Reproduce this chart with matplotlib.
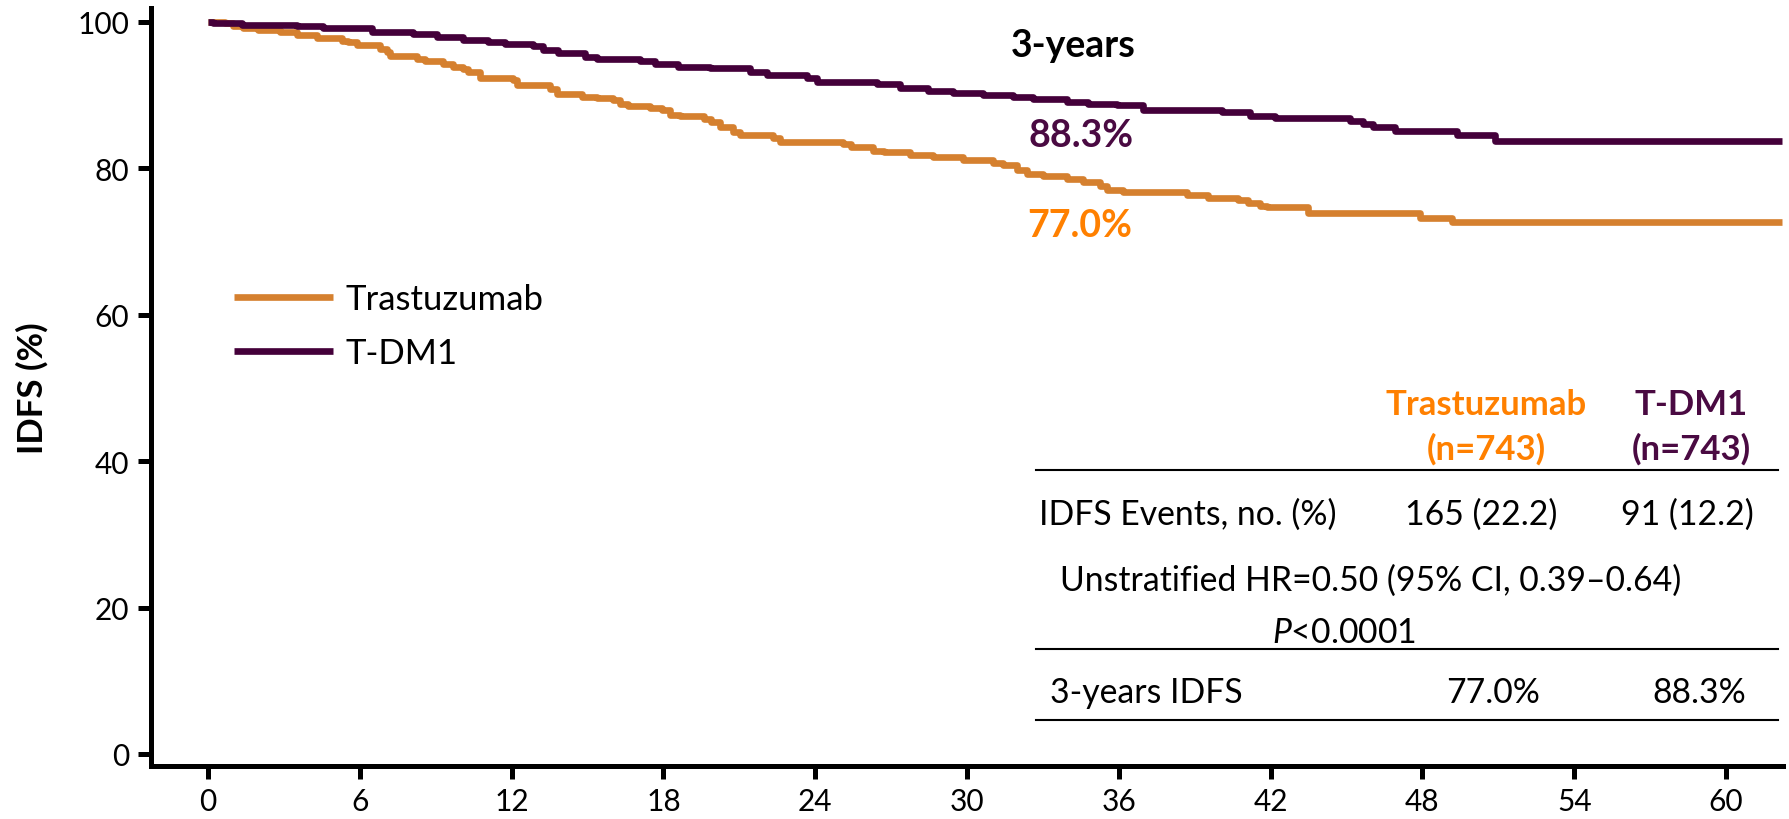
import matplotlib
matplotlib.use("Agg")
import matplotlib.pyplot as plt
from matplotlib.lines import Line2D

plt.rcParams['font.family'] = ['Lato', 'DejaVu Sans']
plt.rcParams['mathtext.fontset'] = 'custom'
plt.rcParams['mathtext.rm'] = 'Lato'
plt.rcParams['mathtext.it'] = 'Lato:italic'

# ---------------- data ----------------
groups = ["Trastuzumab", "T-DM1"]

tras_months = [0, 0.67, 1.0, 1.40, 1.99, 2.85, 3.5, 4.3, 5.28, 5.55, 5.88, 6.4, 6.8, 7.06, 7.19,
               8.25, 8.58, 9.3, 9.7, 10.09, 10.29, 10.75, 12.07, 12.2, 13.5, 13.78, 14.77, 15.36,
               16.0, 16.28, 16.6, 17.47, 17.93, 18.26, 18.66, 19.6, 19.9, 20.24, 20.76, 21.03,
               22.34, 22.6, 25.1, 25.4, 26.3, 26.7, 27.75, 28.67, 29.85, 31.04, 31.43, 31.96,
               32.36, 33.0, 33.94, 34.6, 35.26, 35.52, 36.18, 38.68, 39.54, 40.72, 41.12, 41.58,
               41.84, 43.49, 47.9, 49.16, 62.2]
tras_idfs = [100, 99.8, 99.5, 99.1, 98.9, 98.6, 98.2, 97.8, 97.4, 97.2, 96.9, 96.8, 96.3, 95.9, 95.4,
             94.9, 94.6, 94.3, 93.9, 93.6, 93.1, 92.4, 92.0, 91.4, 90.8, 90.2, 89.8, 89.6,
             89.3, 88.8, 88.5, 88.2, 87.9, 87.3, 87.1, 86.7, 86.3, 85.6, 85.0, 84.6,
             84.2, 83.65, 83.3, 82.9, 82.4, 82.2, 81.8, 81.5, 81.2, 80.7, 80.4, 79.8,
             79.2, 78.9, 78.55, 78.2, 77.6, 77.1, 76.8, 76.4, 76.0, 75.7, 75.3, 74.9,
             74.7, 73.9, 73.2, 72.6, 72.6]

tdm1_months = [0, 0.21, 1.33, 3.5, 4.56, 6.47, 8.12, 9.04, 10.09, 11.08, 11.74, 12.86, 13.25, 13.85,
               14.9, 15.36, 17.08, 17.67, 18.59, 19.84, 21.42, 22.08, 23.66, 24.06, 26.43, 27.35,
               28.47, 29.46, 30.64, 31.83, 32.62, 33.94, 34.79, 35.92, 36.97, 40.07, 41.19, 42.17,
               45.14, 45.66, 46.06, 46.92, 49.35, 50.87, 62.2]
tdm1_idfs = [100, 99.8, 99.6, 99.4, 99.1, 98.6, 98.3, 97.95, 97.5, 97.2, 97.0, 96.7, 96.2, 95.7,
             95.2, 94.9, 94.6, 94.3, 93.8, 93.65, 93.1, 92.8, 92.3, 91.85, 91.5, 90.95,
             90.6, 90.3, 90.0, 89.7, 89.5, 89.1, 88.8, 88.6, 88.0, 87.65, 87.2, 86.85,
             86.4, 86.1, 85.6, 85.1, 84.6, 83.7, 83.7]

x_ticks = [0, 6, 12, 18, 24, 30, 36, 42, 48, 54, 60]
y_ticks = [0, 20, 40, 60, 80, 100]

three_year = ["77.0%", "88.3%"]
n_patients = ["(n=743)", "(n=743)"]
events = ["165 (22.2)", "91 (12.2)"]
hr_text = "Unstratified HR=0.50 (95% CI, 0.39\u20130.64)"
p_text = r"$\mathit{P}$<0.0001"

# ---------------- style ----------------
W, H = 1789, 820
C_TRAS = "#D5802F"
C_TDM1 = "#44003A"
T_TRAS = "#FF8000"
T_TDM1 = "#4A0A42"

fig = plt.figure(figsize=(W / 100, H / 100), dpi=100)
ax = fig.add_axes([150.7 / W, (H - 766.7) / H, (1783 - 150.7) / W, (766.7 - 9) / H])

ax.plot(tras_months, tras_idfs, drawstyle="steps-post", color=C_TRAS, lw=4.8,
        solid_capstyle="butt", label=groups[0])
ax.plot(tdm1_months, tdm1_idfs, drawstyle="steps-post", color=C_TDM1, lw=4.8,
        solid_capstyle="butt", label=groups[1])

ax.set_xlim(-2.265, 62.25)
ax.set_ylim(-1.6, 101.9)
ax.set_xticks(x_ticks)
ax.set_yticks(y_ticks)
for s in ["top", "right"]:
    ax.spines[s].set_visible(False)
for s in ["left", "bottom"]:
    ax.spines[s].set_linewidth(3.6)
ax.tick_params(axis="both", length=9.5, width=3.6, labelsize=21.5)
ax.tick_params(axis="x", pad=6)
ax.tick_params(axis="y", pad=6)

ax.set_ylabel("IDFS (%)", fontsize=25, fontweight="bold")
ax.yaxis.set_label_coords((32.5 - 150.7) / (1783 - 150.7), 0.5)
ax.yaxis.label.set_va("center")

ax.legend(loc="center left", bbox_to_anchor=(234 / W, 1 - 327 / H), bbox_transform=fig.transFigure,
          frameon=False, fontsize=25, handlelength=2.85, handletextpad=0.35,
          labelspacing=0.62, borderpad=0, borderaxespad=0)


def P(x, y):
    return (x / W, 1 - y / H)


fig.text(*P(1073, 57), "3-years", fontsize=27, fontweight="bold", color="black",
         ha="center", va="baseline")
fig.text(*P(1081, 147), three_year[1], fontsize=27, fontweight="bold", color=T_TDM1,
         ha="center", va="baseline")
fig.text(*P(1080, 237), three_year[0], fontsize=27, fontweight="bold", color=T_TRAS,
         ha="center", va="baseline")

# table
col_x = [1486, 1691]
col_c = [T_TRAS, T_TDM1]
for i in range(2):
    fig.text(*P(col_x[i], 415), groups[i], fontsize=25, fontweight="bold", color=col_c[i],
             ha="center", va="baseline")
    fig.text(*P(col_x[i], 460), n_patients[i], fontsize=25, fontweight="bold", color=col_c[i],
             ha="center", va="baseline")

for yy in [471, 650, 721]:
    fig.add_artist(Line2D([1036 / W, 1778 / W], [1 - yy / H, 1 - yy / H], color="black", lw=1.5))

fs = 24.3
fig.text(*P(1039, 525), "IDFS Events, no. (%)", fontsize=fs, ha="left", va="baseline")
fig.text(*P(1481, 525), events[0], fontsize=fs, ha="center", va="baseline")
fig.text(*P(1687, 525), events[1], fontsize=fs, ha="center", va="baseline")
fig.text(*P(1371, 591), hr_text, fontsize=fs, ha="center", va="baseline")
fig.text(*P(1344, 643), p_text, fontsize=fs, ha="center", va="baseline")
fig.text(*P(1050, 703), "3-years IDFS", fontsize=fs, ha="left", va="baseline")
fig.text(*P(1493, 703), three_year[0], fontsize=fs, ha="center", va="baseline")
fig.text(*P(1699, 703), three_year[1], fontsize=fs, ha="center", va="baseline")

fig.savefig("out.png", dpi=100)
